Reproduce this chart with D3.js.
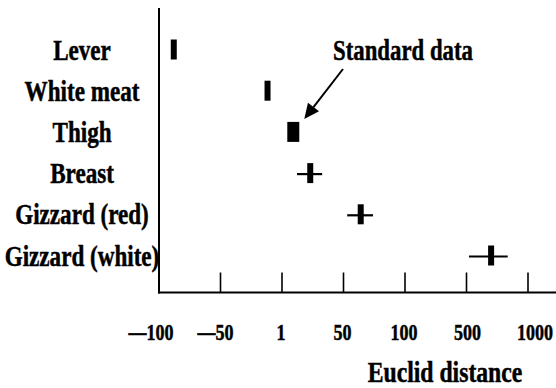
<!DOCTYPE html>
<html>
<head>
  <title>Euclid distance</title>
<style>

body {
  margin: 0;
  background: #fff;
}

svg text {
  font-family: "Liberation Serif", "Times New Roman", serif;
  font-weight: bold;
  fill: #000;
  stroke: #000;
  stroke-width: 0.5px;
}

</style>
</head>
<body>
<svg width="556" height="388"></svg>
<script src="https://cdn.jsdelivr.net/npm/d3@7/dist/d3.min.js"></script>
<script>

// -------------------------------------------------------------------------
// DATA
// -------------------------------------------------------------------------
var categories = ["Lever", "White meat", "Thigh", "Breast", "Gizzard (red)", "Gizzard (white)"];
var distance   = [-88, -11, 10, 23.5, 64, 700];
var rangeLow   = [null, null, null, 13, 53, 520];
var rangeHigh  = [null, null, null, 33, 74, 835];
var tickValues = [-100, -50, 1, 50, 100, 500, 1000];
var tickLabels = ["\u2014100", "\u201450", "1", "50", "100", "500", "1000"];
var standard   = "Thigh";

// -------------------------------------------------------------------------
// SETUP THE VIEW
// -------------------------------------------------------------------------
var svg = d3.select("svg"),
    width = +svg.attr("width"),
    height = +svg.attr("height");

var x0 = 159, x1 = 528, axisY = 292.5;

// uneven axis: every tick value sits at an equal step
var x = d3.scaleLinear()
    .domain(tickValues)
    .range(tickValues.map(function(d, i) { return x0 + i * (x1 - x0) / (tickValues.length - 1); }));

var y = d3.scalePoint()
    .domain(categories)
    .range([49.5, 255.5]);

// compressed serif text, like the source
function label(g, text, tx, ty, size, sx) {
  return g.append("text")
      .attr("transform", "translate(" + tx + "," + ty + ") scale(" + sx + ",1)")
      .attr("text-anchor", "middle")
      .style("font-size", size + "px")
      .text(text);
}

// axes
svg.append("line")
    .attr("x1", x0).attr("x2", x0)
    .attr("y1", 8).attr("y2", axisY + 1)
    .attr("stroke", "#000").attr("stroke-width", 2);

svg.append("line")
    .attr("x1", x0 - 1).attr("x2", width)
    .attr("y1", axisY).attr("y2", axisY)
    .attr("stroke", "#000").attr("stroke-width", 2);

svg.append("g")
  .selectAll("line")
    .data(tickValues.slice(1))
  .enter().append("line")
    .attr("x1", function(d) { return x(d); })
    .attr("x2", function(d) { return x(d); })
    .attr("y1", axisY - 20)
    .attr("y2", axisY)
    .attr("stroke", "#000")
    .attr("stroke-width", 1.6);

// labels sit a little off their ticks in the source
var tickNudge = [-8, -5, -1, -1, -1, 1, 7];
var tickG = svg.append("g");
tickValues.forEach(function(d, i) {
  label(tickG, tickLabels[i], x(d) + tickNudge[i], 340, 24, 0.75);
});

label(svg, "Euclid distance", 445, 382, 30, 0.79);

// category labels
var catG = svg.append("g");
categories.forEach(function(c) {
  label(catG, c, 82, y(c) + 10, 30, 0.77);
});

// -------------------------------------------------------------------------
// MARKS
// -------------------------------------------------------------------------
var rows = categories.map(function(c, i) {
  return { cat: c, v: distance[i], lo: rangeLow[i], hi: rangeHigh[i] };
});

var marks = svg.append("g");

marks.selectAll("line")
    .data(rows.filter(function(d) { return d.lo !== null; }))
  .enter().append("line")
    .attr("x1", function(d) { return x(d.lo); })
    .attr("x2", function(d) { return x(d.hi); })
    .attr("y1", function(d) { return y(d.cat) + 1; })
    .attr("y2", function(d) { return y(d.cat) + 1; })
    .attr("stroke", "#000")
    .attr("stroke-width", 2.2);

marks.selectAll("rect")
    .data(rows)
  .enter().append("rect")
    .attr("x", function(d) { return x(d.v) - (d.cat === standard ? 6 : 3); })
    .attr("width", function(d) { return d.cat === standard ? 12 : 6; })
    .attr("y", function(d) { return y(d.cat) - 10; })
    .attr("height", 20)
    .attr("fill", "#000");

// -------------------------------------------------------------------------
// ANNOTATION
// -------------------------------------------------------------------------
label(svg, "Standard data", 403, 60, 30, 0.76);

var tipX = x(distance[categories.indexOf(standard)]) + 11,
    tipY = y(standard) - 13,
    fromX = 343, fromY = 69,
    len = Math.hypot(fromX - tipX, fromY - tipY),
    ux = (fromX - tipX) / len, uy = (fromY - tipY) / len,
    headL = 15, headW = 7;

var bx = tipX + ux * headL, by = tipY + uy * headL;

svg.append("line")
    .attr("x1", fromX).attr("y1", fromY)
    .attr("x2", bx).attr("y2", by)
    .attr("stroke", "#000").attr("stroke-width", 2);

svg.append("path")
    .attr("d", "M" + tipX + "," + tipY +
               "L" + (bx - uy * headW) + "," + (by + ux * headW) +
               "L" + (bx + uy * headW) + "," + (by - ux * headW) + "Z")
    .attr("fill", "#000");

</script>
</body>
</html>
